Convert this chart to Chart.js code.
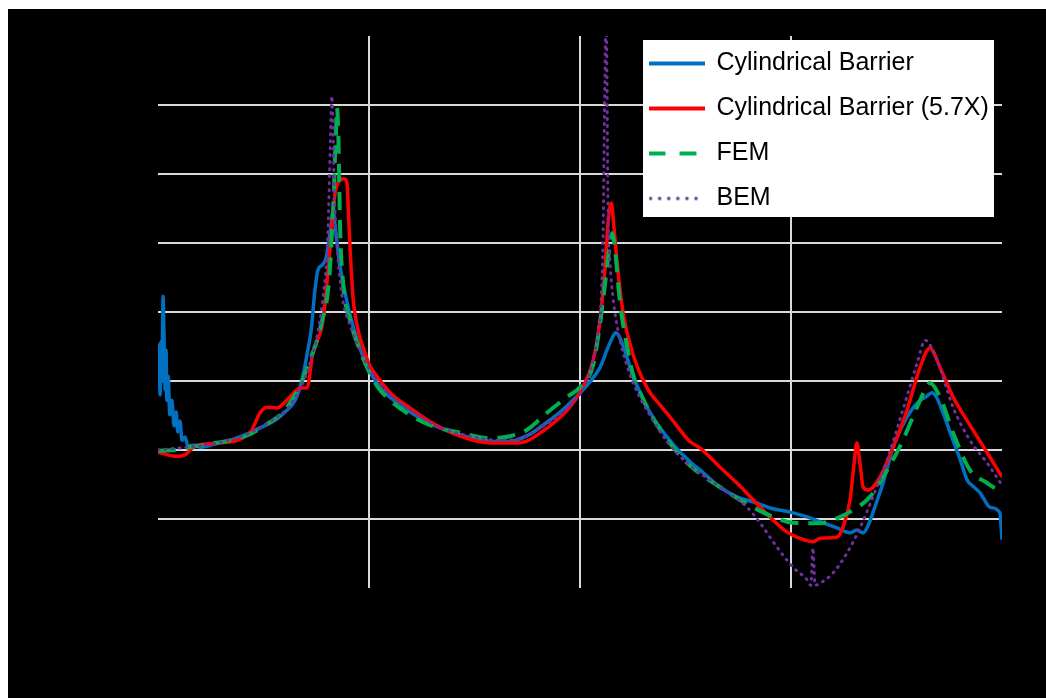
<!DOCTYPE html>
<html>
<head>
<meta charset="utf-8">
<script src="https://cdn.jsdelivr.net/npm/chart.js@4.4.1/dist/chart.umd.min.js"></script>
<style>
  html, body { margin: 0; padding: 0; background: #ffffff; }
  #wrap { position: absolute; left: 8px; top: 9px; width: 1038px; height: 689px; background: #000000; }
</style>
</head>
<body>
<div id="wrap"><canvas id="chart"></canvas></div>
<script>
// --- data: [frequency (Hz), level (dB)] ---
const seriesNames = ['Cylindrical Barrier', 'Cylindrical Barrier (5.7X)', 'FEM', 'BEM'];

const barrierData = [
  [0,31.6],[2,35.2],[5,28.0],[7,35.7],[9,29.9],[12,42.3],[14,37.1],[17,28.7],[19,34.5],[21,27.2],
  [24,30.7],[28,25.1],[33,27.2],[38,23.5],[43,25.5],[47,22.6],[52,24.2],[57,21.4],[64,21.9],[71,20.6],
  [88,20.7],[100,20.4],[135,20.9],[171,21.4],[206,22.2],[242,23.2],[277,24.3],[301,25.5],[325,27.2],
  [341,30.1],[353,33.8],[363,37.4],[372,43.2],[379,46.1],[389,46.8],[398,47.8],[408,51.6],[415,54.5],
  [422,51.2],[431,46.8],[443,42.9],[455,39.6],[472,35.9],[491,32.8],[514,30.1],[538,28.3],[574,26.5],
  [621,24.6],[668,23.2],[716,22.2],[763,21.4],[810,21.2],[846,21.4],[882,22.3],[917,23.8],[953,25.5],
  [988,27.5],[1024,29.9],[1047,31.9],[1064,34.5],[1076,36.2],[1085,37.0],[1095,36.2],[1111,33.5],
  [1126,30.6],[1142,28.4],[1159,26.2],[1190,23.2],[1213,21.4],[1237,19.7],[1261,18.3],[1292,16.7],
  [1332,14.6],[1372,13.2],[1410,12.5],[1450,11.6],[1498,11.0],[1538,10.3],[1569,9.6],[1609,8.7],
  [1640,8.0],[1656,8.4],[1671,8.0],[1683,9.1],[1694,10.9],[1706,13.0],[1718,15.2],[1742,20.4],
  [1775,24.8],[1806,27.2],[1820,27.7],[1834,28.3],[1846,27.5],[1860,25.4],[1884,21.4],[1901,18.6],
  [1917,15.7],[1936,14.5],[1948,13.8],[1972,11.7],[1995,10.9],[2000,7.0]
];

const barrierScaledData = [
  [0,19.7],[17,19.4],[40,19.1],[64,19.3],[88,20.6],[140,21.0],[218,22.5],[242,25.4],[258,26.2],
  [282,26.1],[313,27.7],[337,29.0],[353,29.0],[367,34.1],[391,38.8],[408,49.4],[419,57.0],[431,59.1],
  [441,59.3],[448,58.6],[450,56.2],[455,49.4],[462,42.2],[474,37.4],[486,34.9],[502,32.2],[519,30.7],
  [550,28.3],[597,26.1],[645,24.1],[716,22.0],[787,21.0],[834,21.0],[874,21.3],[922,23.2],[969,25.7],
  [1000,28.4],[1031,33.0],[1047,38.6],[1059,46.1],[1066,52.6],[1074,55.8],[1081,51.9],[1088,47.1],
  [1102,39.9],[1126,33.8],[1159,29.0],[1190,26.5],[1213,24.8],[1261,21.2],[1284,20.3],[1332,17.5],
  [1372,15.2],[1410,12.8],[1450,10.3],[1491,8.1],[1521,7.2],[1552,6.7],[1569,7.2],[1609,7.4],
  [1623,8.8],[1640,12.8],[1649,17.8],[1656,21.0],[1664,17.8],[1671,14.6],[1683,14.2],[1711,16.1],
  [1742,20.4],[1775,25.8],[1806,32.0],[1829,34.8],[1853,32.0],[1884,27.7],[1917,24.3],[1965,19.6],
  [2000,16.1]
];

const femData = [
  [0,19.9],[40,20.0],[76,20.4],[123,20.9],[171,21.4],[218,22.3],[254,23.6],[296,25.5],[337,29.4],
  [360,33.0],[377,35.9],[389,38.8],[401,42.2],[408,46.8],[412,51.6],[417,57.7],[419,62.0],[422,66.4],
  [424,69.6],[427,66.4],[429,60.6],[431,53.3],[438,44.6],[455,38.8],[474,35.2],[495,32.0],[521,29.1],
  [550,27.2],[597,25.1],[645,23.6],[716,22.5],[787,21.7],[834,22.0],[874,22.9],[922,25.4],[969,27.7],
  [1000,29.1],[1031,32.3],[1047,38.1],[1059,43.9],[1069,49.0],[1076,51.4],[1083,49.0],[1095,41.3],
  [1111,35.2],[1126,30.9],[1142,28.4],[1173,24.6],[1213,21.0],[1254,18.1],[1332,14.6],[1410,11.7],
  [1491,9.6],[1529,9.4],[1569,9.4],[1609,10.1],[1647,11.3],[1687,13.2],[1728,17.1],[1765,21.4],
  [1806,27.2],[1829,29.7],[1853,27.7],[1884,22.5],[1924,17.1],[1965,15.2],[2000,13.8]
];

const bemData = [
  [0,20.0],[52,20.3],[100,20.6],[159,21.3],[218,22.5],[265,24.1],[313,26.5],[348,30.4],[372,35.2],
  [384,38.8],[393,43.2],[401,49.0],[405,56.2],[408,63.5],[410,68.6],[412,71.3],[415,66.4],[417,59.1],
  [422,51.9],[429,46.1],[438,41.7],[455,38.1],[479,34.5],[502,31.6],[538,28.7],[574,26.8],[621,24.8],
  [668,23.3],[739,22.0],[810,21.4],[858,21.7],[905,23.2],[953,25.2],[988,27.2],[1012,29.4],[1031,33.0],
  [1043,37.4],[1050,41.7],[1055,51.9],[1057,63.5],[1059,73.6],[1062,83.8],[1064,73.6],[1066,56.7],
  [1071,47.5],[1078,42.2],[1095,35.9],[1111,32.3],[1126,29.7],[1173,24.3],[1213,20.7],[1254,18.1],
  [1332,14.6],[1396,11.7],[1427,9.4],[1467,5.9],[1505,3.0],[1538,1.2],[1547,0.4],[1552,5.8],
  [1557,0.4],[1569,0.7],[1600,2.2],[1633,5.1],[1664,8.8],[1694,13.2],[1728,18.6],[1765,25.8],
  [1799,32.6],[1818,35.9],[1846,33.0],[1884,26.2],[1924,21.4],[1965,18.1],[2000,14.9]
];

// axis ranges
const xMin = 0, xMax = 2000, xStep = 500;
const yMin = 0, yMax = 80, yStep = 10;

const toPoints = arr => arr.map(p => ({ x: p[0], y: p[1] }));

// little canvas used as the legend sample so dashes show in the legend too
function lineSample(color, width, dash, cap) {
  const c = document.createElement('canvas');
  c.width = 56; c.height = 10;
  const g = c.getContext('2d');
  g.strokeStyle = color;
  g.lineWidth = width;
  g.lineCap = cap || 'butt';
  g.setLineDash(dash || []);
  g.beginPath();
  g.moveTo(cap === 'round' ? 2 : 0, 5);
  g.lineTo(56, 5);
  g.stroke();
  return c;
}

// white legend panel inside the plot, legend redrawn on top of it
const legendPanel = {
  id: 'legendPanel',
  beforeDraw(chart) {
    const lg = chart.legend, ca = chart.chartArea;
    lg.left = ca.right - 373;
    lg.top = ca.top - 5;
    lg.right = ca.right;
    lg.bottom = ca.bottom;
  },
  afterDatasetsDraw(chart) {
    const ctx = chart.ctx, ca = chart.chartArea;
    ctx.save();
    ctx.fillStyle = '#ffffff';
    ctx.fillRect(ca.right - 359, ca.top + 4, 351, 177);
    ctx.restore();
    chart.legend.draw();
  }
};

const hideEdge = (lo, hi) => c => (c.tick && (c.tick.value === lo || c.tick.value === hi)) ? 'rgba(0,0,0,0)' : '#d9d9d9';

new Chart(document.getElementById('chart'), {
  type: 'line',
  data: {
    datasets: [
      { label: seriesNames[0], data: toPoints(barrierData), borderColor: '#0070C0', borderWidth: 3.5, order: 3,
        pointStyle: lineSample('#0070C0', 4) },
      { label: seriesNames[1], data: toPoints(barrierScaledData), borderColor: '#FF0000', borderWidth: 3.5, order: 2,
        pointStyle: lineSample('#FF0000', 4) },
      { label: seriesNames[2], data: toPoints(femData), borderColor: '#00B050', borderWidth: 4, borderDash: [18, 10], order: 1,
        pointStyle: lineSample('#00B050', 4, [17, 14]) },
      { label: seriesNames[3], data: toPoints(bemData), borderColor: '#7030A0', borderWidth: 3, borderDash: [1, 6], borderCapStyle: 'round', order: 0,
        pointStyle: lineSample('#5B3C8C', 3.5, [0.1, 9], 'round') }
    ]
  },
  options: {
    responsive: true,
    maintainAspectRatio: false,
    animation: false,
    layout: { padding: { top: 27, right: 44, left: 0, bottom: 0 } },
    elements: {
      point: { radius: 0 },
      line: { cubicInterpolationMode: 'monotone', fill: false, backgroundColor: 'transparent' }
    },
    scales: {
      x: {
        type: 'linear',
        min: xMin, max: xMax,
        ticks: { stepSize: xStep, color: '#000000', font: { family: 'Liberation Sans', size: 20 } },
        grid: { color: hideEdge(xMin, xMax), lineWidth: 2, drawTicks: false },
        border: { display: false },
        afterFit(scale) { scale.height = 110; }
      },
      y: {
        min: yMin, max: yMax,
        ticks: { stepSize: yStep, color: '#000000', font: { family: 'Liberation Sans', size: 20 } },
        grid: { color: hideEdge(yMin, yMax), lineWidth: 2, drawTicks: false },
        border: { display: false },
        afterFit(scale) { scale.width = 150; }
      }
    },
    plugins: {
      legend: {
        position: 'chartArea',
        align: 'start',
        labels: {
          usePointStyle: true,
          pointStyleWidth: 55,
          padding: 20,
          color: '#000000',
          font: { family: 'Liberation Sans', size: 25 },
          sort: (a, b) => a.datasetIndex - b.datasetIndex
        }
      },
      tooltip: { enabled: false }
    }
  },
  plugins: [legendPanel]
});
</script>
</body>
</html>
